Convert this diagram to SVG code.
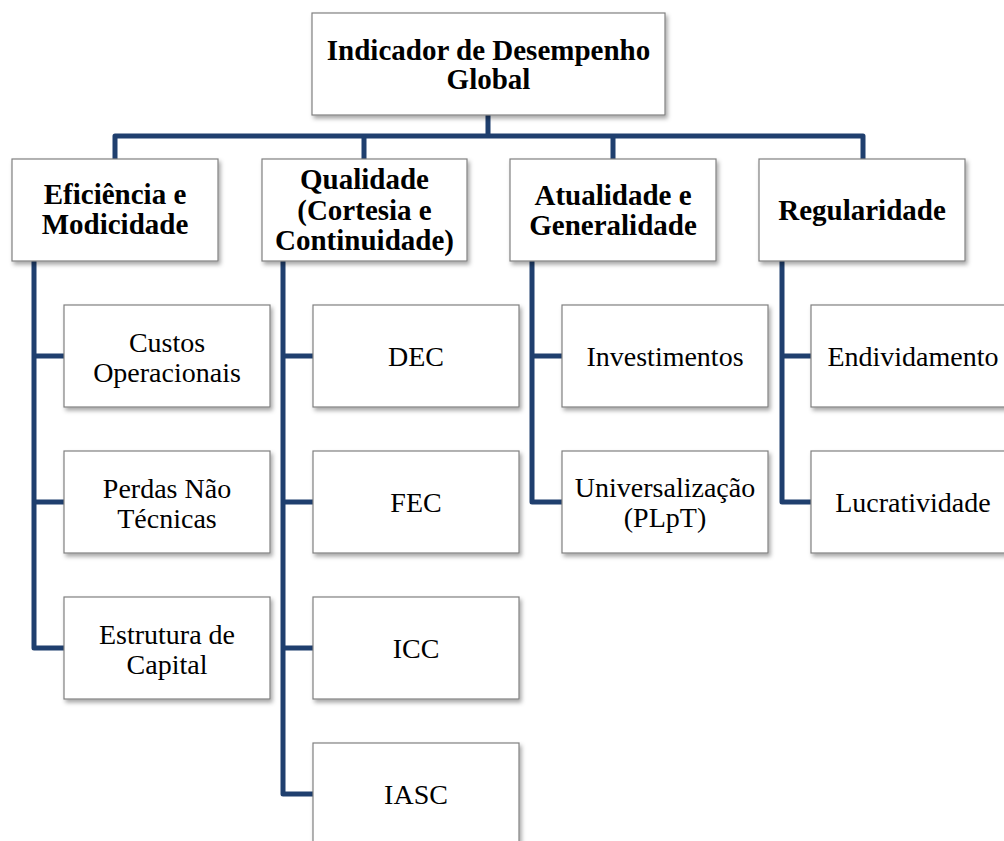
<svg xmlns="http://www.w3.org/2000/svg" width="1004" height="841" viewBox="0 0 1004 841">
<defs>
<filter id="sh" x="-10%" y="-10%" width="125%" height="130%">
<feDropShadow dx="2" dy="3" stdDeviation="2" flood-color="#000" flood-opacity="0.35"/>
</filter>
<style>
.box{fill:#fff;stroke:#808080;stroke-width:1.2;filter:url(#sh)}
.hd{font-family:"Liberation Serif","Times New Roman",serif;font-weight:bold;font-size:29px;fill:#000;text-anchor:middle}
.ch{font-family:"Liberation Serif","Times New Roman",serif;font-size:28px;fill:#000;text-anchor:middle}
.ln{fill:none;stroke:#1F3F6E;stroke-width:5;stroke-linejoin:round;stroke-linecap:butt}
</style>
</defs>
<rect width="1004" height="841" fill="#fff"/>
<g id="connectors">
<path class="ln" d="M488,115 V136 M115,159 V136 H863 V159 M364,136 V159 M613,136 V159"/>
<path class="ln" d="M34,261 V648 H64 M34,356 H64 M34,502 H64"/>
<path class="ln" d="M283,261 V794 H313 M283,356 H313 M283,502 H313 M283,648 H313"/>
<path class="ln" d="M532,261 V502 H562 M532,356 H562"/>
<path class="ln" d="M782,261 V502 H811 M782,356 H811"/>
</g>
<g id="root"><rect class="box" x="312" y="13" width="353" height="102"/>
<text class="hd" x="488.5" y="60">Indicador de Desempenho</text><text class="hd" x="488.5" y="89">Global</text></g>
<g id="eficiencia"><rect class="box" x="12" y="159" width="206" height="102"/>
<text class="hd" x="115" y="204">Eficiência e</text><text class="hd" x="115" y="234">Modicidade</text></g>
<g id="qualidade"><rect class="box" x="262" y="159" width="205" height="102"/>
<text class="hd" x="364.5" y="189">Qualidade</text><text class="hd" x="364.5" y="220">(Cortesia e</text><text class="hd" x="364.5" y="250">Continuidade)</text></g>
<g id="atualidade"><rect class="box" x="510" y="159" width="206" height="102"/>
<text class="hd" x="613" y="205">Atualidade e</text><text class="hd" x="613" y="235">Generalidade</text></g>
<g id="regularidade"><rect class="box" x="759" y="159" width="206" height="102"/>
<text class="hd" x="862" y="220">Regularidade</text></g>
<g id="custos"><rect class="box" x="64" y="305" width="206" height="102"/>
<text class="ch" x="167" y="352">Custos</text><text class="ch" x="167" y="382">Operacionais</text></g>
<g id="perdas"><rect class="box" x="64" y="451" width="206" height="102"/>
<text class="ch" x="167" y="498">Perdas Não</text><text class="ch" x="167" y="528">Técnicas</text></g>
<g id="estrutura"><rect class="box" x="64" y="597" width="206" height="102"/>
<text class="ch" x="167" y="644">Estrutura de</text><text class="ch" x="167" y="674">Capital</text></g>
<g id="dec"><rect class="box" x="313" y="305" width="206" height="102"/>
<text class="ch" x="416" y="366">DEC</text></g>
<g id="fec"><rect class="box" x="313" y="451" width="206" height="102"/>
<text class="ch" x="416" y="512">FEC</text></g>
<g id="icc"><rect class="box" x="313" y="597" width="206" height="102"/>
<text class="ch" x="416" y="658">ICC</text></g>
<g id="iasc"><rect class="box" x="313" y="743" width="206" height="102"/>
<text class="ch" x="416" y="804">IASC</text></g>
<g id="investimentos"><rect class="box" x="562" y="305" width="206" height="102"/>
<text class="ch" x="665" y="366">Investimentos</text></g>
<g id="universalizacao"><rect class="box" x="562" y="451" width="206" height="102"/>
<text class="ch" x="665" y="497">Universalização</text><text class="ch" x="665" y="527">(PLpT)</text></g>
<g id="endividamento"><rect class="box" x="811" y="305" width="206" height="102"/>
<text class="ch" x="913" y="366">Endividamento</text></g>
<g id="lucratividade"><rect class="box" x="811" y="451" width="206" height="102"/>
<text class="ch" x="913" y="512">Lucratividade</text></g>
</svg>
